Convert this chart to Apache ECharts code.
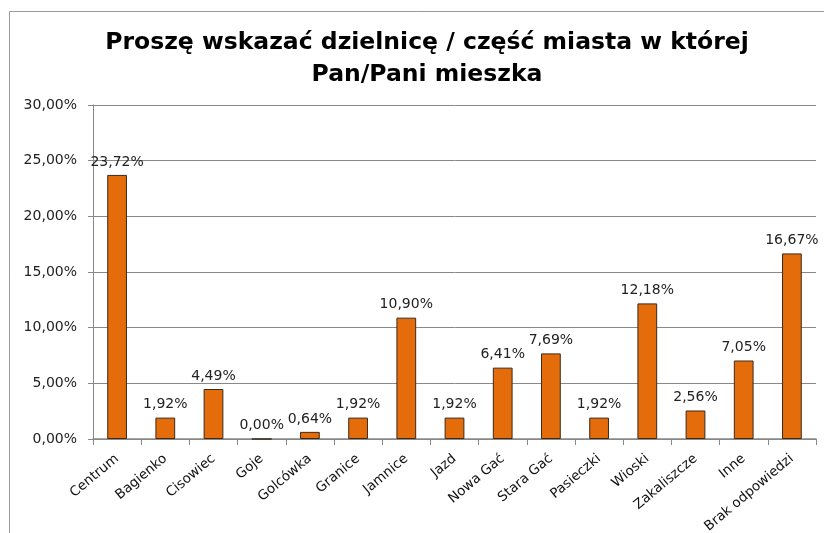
<!DOCTYPE html>
<html>
<head>
<meta charset="utf-8">
<script src="https://cdn.jsdelivr.net/npm/echarts@6/dist/echarts.min.js"></script>
<style>
  html, body { margin: 0; padding: 0; background: #fff; }
  #chart { width: 824px; height: 533px; }
</style>
</head>
<body>
<div id="chart"></div>
<script>
var titleText = 'Proszę wskazać dzielnicę / część miasta w której\nPan/Pani mieszka';

var districts = ['Centrum', 'Bagienko', 'Cisowiec', 'Goje', 'Golcówka', 'Granice', 'Jamnice',
    'Jazd', 'Nowa Gać', 'Stara Gać', 'Pasieczki', 'Wioski', 'Zakaliszcze', 'Inne', 'Brak odpowiedzi'];
var shares = [23.72, 1.92, 4.49, 0.00, 0.64, 1.92, 10.90, 1.92, 6.41, 7.69, 1.92, 12.18, 2.56, 7.05, 16.67];

function pct(v) {
    return v.toFixed(2).replace('.', ',') + '%';
}

var font = '"DejaVu Sans", sans-serif';

var myChart = echarts.init(document.getElementById('chart'));
var option = {
    animation: false,
    title: {
        text: titleText,
        left: 422,
        top: 22,
        textAlign: 'center',
        textStyle: {
            fontFamily: font,
            fontSize: 23.5,
            fontWeight: 'bold',
            color: '#000',
            lineHeight: 32
        }
    },
    graphic: [{
        type: 'rect',
        shape: { x: 9.5, y: 11.5, width: 900, height: 600 },
        style: { fill: 'none', stroke: '#999', lineWidth: 1 },
        silent: true
    }],
    grid: { left: 93, right: 8, top: 105, bottom: 94, containLabel: false, outerBoundsMode: 'none' },
    xAxis: {
        type: 'category',
        data: districts,
        axisLine: { lineStyle: { color: '#888', width: 1.5 } },
        axisTick: { show: true, length: 6, lineStyle: { color: '#888' } },
        axisLabel: {
            interval: 0,
            rotate: 40,
            margin: 18,
            fontFamily: font,
            fontSize: 13.5,
            color: '#111'
        }
    },
    yAxis: {
        type: 'value',
        min: 0,
        max: 30,
        interval: 5,
        axisLine: { show: true, lineStyle: { color: '#888' } },
        axisTick: { show: true, inside: false, length: 5, lineStyle: { color: '#888' } },
        splitLine: { lineStyle: { color: '#888', width: 1 } },
        axisLabel: {
            formatter: function (v) { return pct(v); },
            fontFamily: font,
            fontSize: 14,
            color: '#222',
            margin: 16
        }
    },
    series: [{
        type: 'bar',
        data: shares,
        barWidth: '41%',
        itemStyle: {
            color: '#E46C0A',
            borderColor: '#3b2a1c',
            borderWidth: 1
        },
        label: {
            show: true,
            position: 'top',
            distance: 6,
            formatter: function (p) { return pct(p.value); },
            fontFamily: font,
            fontSize: 14,
            color: '#222'
        }
    }]
};
myChart.setOption(option);
</script>
</body>
</html>
